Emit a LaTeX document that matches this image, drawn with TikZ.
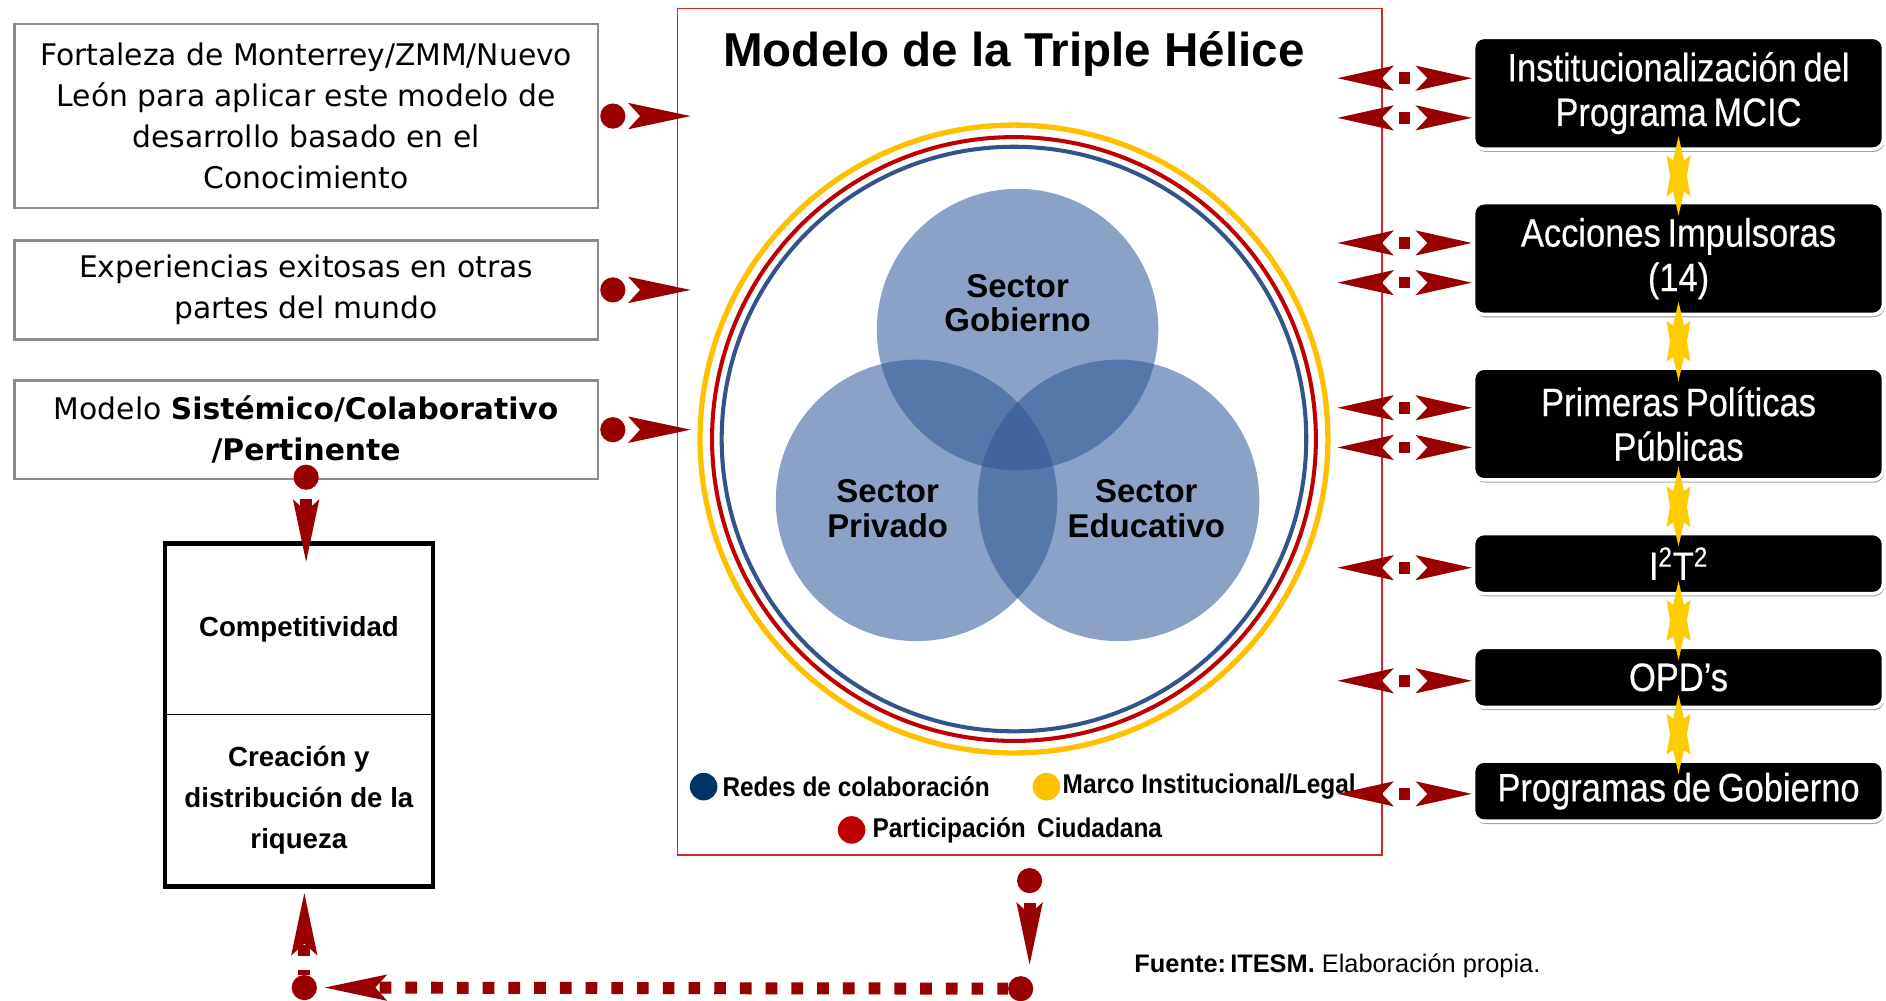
\documentclass[tikz,border=0pt]{standalone}
\usepackage{fontspec}
\setmainfont{Liberation Sans}
\newfontfamily\tahomafont{DejaVu Sans}
\newfontfamily\narrowfont[FakeStretch=0.87,FakeBold=0.4,WordSpace=0.7]{Liberation Sans}
\newfontfamily\legendfont[FakeStretch=0.9]{Liberation Sans}
\usetikzlibrary{positioning,arrows.meta,shadows,fit,calc,decorations.markings}

\definecolor{linkred}{RGB}{153,0,0}
\definecolor{framered}{RGB}{214,38,38}
\definecolor{ringyellow}{RGB}{255,192,0}
\definecolor{ringred}{RGB}{192,0,0}
\definecolor{ringblue}{RGB}{50,84,140}
\definecolor{vennblue}{RGB}{45,85,150}
\definecolor{dotblue}{RGB}{0,51,102}
\definecolor{staryellow}{RGB}{255,204,0}
\definecolor{boxgray}{RGB}{140,140,140}

\newcommand\leftfont{\tahomafont\fontsize{16.9}{23.2}\selectfont}
\newcommand\rightfont{\narrowfont\fontsize{22.5}{25.3}\selectfont}
\newcommand\vennfont{\bfseries\fontsize{18.7}{19.8}\selectfont}
\newcommand\compfont{\bfseries\fontsize{15.7}{23.2}\selectfont}
\newcommand\headfont{\bfseries\fontsize{27}{30}\selectfont}
\newcommand\legfont{\legendfont\bfseries\fontsize{15.4}{18}\selectfont}
\newcommand\srcfont{\fontsize{14.4}{17}\selectfont}

\begin{document}
\begin{tikzpicture}[%
    x=0.024cm,
    y=-0.024cm,
    node distance=1cm,
    leftbox/.style={%
      rectangle,
      draw=boxgray,
      line width=1.4pt,
      fill=white,
      minimum width=11.64cm,
      align=center,
      font=\leftfont
    },
    rightbox/.style={%
      rectangle,
      rounded corners=6pt,
      fill=black,
      draw=white,
      line width=2pt,
      drop shadow={shadow xshift=0.6pt,shadow yshift=-1.6pt,opacity=0.35,fill=black},
      minimum width=8.18cm,
      text=white,
      align=center,
      font=\rightfont
    },
    compcell/.style={%
      minimum width=5.35cm,
      outer sep=0pt,
      align=center,
      font=\compfont
    },
    ldot/.style={%
      circle,
      minimum size=0.55cm,
      inner sep=0pt
    },
    legtext/.style={%
      font=\legfont,
      inner sep=1pt
    },
    dotlink/.style={%
      draw=linkred,
      line width=6.8pt,
      dash pattern=on 6.62pt off 7.99pt,
      dash phase=0.5pt,
      {Circle[length=14.3pt,line width=0pt]}-{Stealth[length=35.5pt,width=15pt,inset=6.8pt,line width=0pt]}
    },
    nodash/.style={dash pattern=on 0pt off 50cm},
    duallink/.style={%
      draw=linkred,
      line width=6.8pt,
      nodash,
      {Stealth[length=32pt,width=14.3pt,inset=6.8pt,line width=0pt]}-{Stealth[length=32pt,width=14.3pt,inset=6.8pt,line width=0pt]},
      postaction={decorate},
      decoration={markings,
        mark=at position 0.5 with {\fill[linkred] (-3.3pt,-3.3pt) rectangle (3.3pt,3.3pt);}}
    },
    ystar/.pic={%
      \fill[staryellow] (0,-33) -- (4.5,-13) -- (10,-17) -- (7,0) -- (10,17) -- (4.5,13)
        -- (0,33) -- (-4.5,13) -- (-10,17) -- (-7,0) -- (-10,-17) -- (-4.5,-13) -- cycle;
    }
  ]
    \path[use as bounding box,fill=white] (0,0) rectangle (1568,831.4);

    % left column
    \node[leftbox, minimum height=3.67cm] (l1) at (254.5,96.5) {Fortaleza de Monterrey/ZMM/Nuevo\\León para aplicar este modelo de\\desarrollo basado en el\\Conocimiento};
    \node[leftbox, minimum height=1.97cm] (l2) [below=0.6cm of l1] {Experiencias exitosas en otras\\partes del mundo};
    \node[leftbox, minimum height=1.97cm] (l3) [below=0.77cm of l2] {Modelo \textbf{Sistémico/Colaborativo}\\\textbf{/Pertinente}};

    \node[compcell, minimum height=3.41cm] (compA) at (248.5,523) {Competitividad};
    \node[compcell, minimum height=3.43cm] (compB) [below=0pt of compA] {Creación y\\distribución de la\\riqueza};
    \node[draw, line width=2.6pt, inner sep=0pt, fit=(compA)(compB)] (comp) {};
    \draw[line width=0.7pt] (compA.south west) -- (compA.south east);

    % triple helix
    \node[draw=framered, line width=0.9pt, minimum width=14.06cm, minimum height=16.9cm] (cbox) at (856,359) {};
    \node[font=\headfont] (title) at (843,45) {Modelo de la Triple Hélice};

    \draw[ringyellow, line width=3pt] (843,365) circle[radius=261];
    \draw[ringred, line width=2.3pt] (843,365) circle[radius=251];
    \draw[ringblue, line width=2.3pt] (843,365) circle[radius=243];

    \fill[vennblue, fill opacity=0.55] (846,274) circle[radius=117];
    \fill[vennblue, fill opacity=0.55] (762,416) circle[radius=117];
    \fill[vennblue, fill opacity=0.55] (930,416) circle[radius=117];

    \node[font=\vennfont, align=center] (gob) at (846,252) {Sector\\Gobierno};
    \node[font=\vennfont, align=center] (pri) at (738,423) {Sector\\Privado};
    \node[font=\vennfont, align=center] (edu) at (953,423) {Sector\\Educativo};

    \node[ldot, fill=dotblue] (dredes) at (585,654) {};
    \node[legtext] (tredes) [right=1.5pt of dredes] {Redes de colaboración};
    \node[ldot, fill=ringyellow] (dmarco) at (870,654) {};
    \node[legtext] (tmarco) [right=0pt of dmarco] {Marco Institucional/Legal};
    \node[ldot, fill=ringred] (dpart) at (708,690) {};
    \node[legtext] (tpart) [right=2.7pt of dpart] {Participación\, Ciudadana};

    \node[font=\srcfont, anchor=west] (src) at (938,803) {\textbf{Fuente:\,ITESM.} Elaboración propia.};

    % right column
    \node[rightbox, minimum height=2.23cm] (r1) at (1395.5,77.5) {Institucionalización del\\Programa MCIC};
    \node[rightbox, minimum height=2.23cm] (r2) [below=of r1] {Acciones Impulsoras\\(14)};
    \node[rightbox, minimum height=2.23cm] (r3) [below=of r2] {Primeras Políticas\\Públicas};
    \node[rightbox, minimum height=1.2cm] (r4) [below=of r3] {I\textsuperscript{2}T\textsuperscript{2}};
    \node[rightbox, minimum height=1.2cm] (r5) [below=of r4] {OPD’s};
    \node[rightbox, minimum height=1.2cm] (r6) [below=of r5] {Programas de Gobierno};

    \foreach \a/\b in {r1/r2,r2/r3,r3/r4,r4/r5,r5/r6}
      \pic at ($(\a.south)!0.5!(\b.north)$) {ystar};

    \foreach \y/\b [count=\i] in {65/r1,98/r1,202/r2,235/r2,339/r3,372/r3,472/r4,566/r5,660/r6}{
      \coordinate (dl\i) at (1112,\y);
      \draw[duallink] (dl\i) -- (dl\i -| \b.west);
    }

    % connectors
    \draw[dotlink, nodash, shorten <=0.7pt, shorten >=-8pt] (l1.east) -- (l1.east -| cbox.west);
    \draw[dotlink, nodash, shorten <=0.7pt, shorten >=-8pt] (l2.east) -- (l2.east -| cbox.west);
    \draw[dotlink, nodash, shorten <=0.7pt, shorten >=-8pt] (l3.east) -- (l3.east -| cbox.west);

    \draw[dotlink, dash phase=9.15pt, shorten <=-8.9pt, shorten >=-11.6pt] (l3.south) -- (l3.south |- comp.north);

    \coordinate (bdrop) at (856,802);
    \coordinate (cornerR) at (848.5,822);
    \coordinate (cornerL) at (253,821);
    \draw[dotlink, dash phase=9.15pt, shorten <=6.8pt] (cbox.south) -- (bdrop);
    \draw[dotlink, shorten <=-7.2pt, shorten >=11.6pt] (cornerR) -- (cornerL);
    \draw[dotlink, dash phase=4.03pt, shorten <=-7.2pt, shorten >=2.5pt] (cornerL) -- (cornerL |- comp.south);
\end{tikzpicture}
\end{document}
